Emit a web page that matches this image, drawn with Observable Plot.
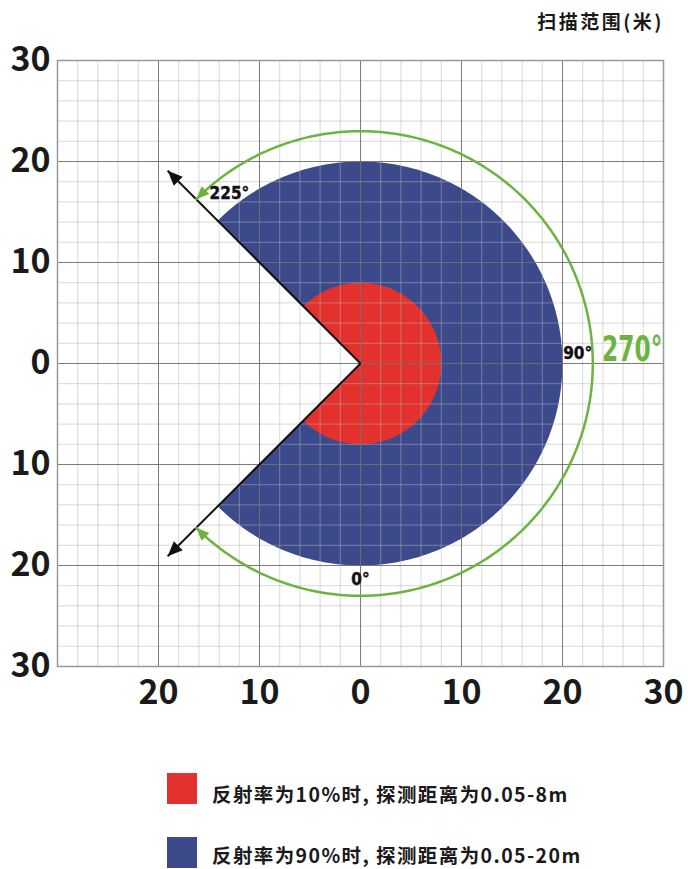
<!DOCTYPE html>
<html><head><meta charset="utf-8">
<script src="https://cdn.jsdelivr.net/npm/d3@7"></script>
<script src="https://cdn.jsdelivr.net/npm/@observablehq/plot@0.6"></script>
<style>
html,body{margin:0;background:#fff;width:688px;height:869px;overflow:hidden;font-family:"Noto Sans CJK SC","Noto Sans",sans-serif;color:#1a1a1a;}
body{position:relative;}
#title{position:relative;height:45px;}
#title span{position:absolute;right:24px;top:11px;font-size:19px;font-weight:700;line-height:20px;letter-spacing:2.5px;white-space:nowrap;}
#chart svg{display:block;}
.sw{position:absolute;left:167px;width:30px;height:31px;}
.lt{position:absolute;left:212px;font-size:19.5px;font-weight:700;line-height:18px;letter-spacing:1.4px;white-space:nowrap;}
</style></head><body>
<div id="title"><span>扫描范围(米)</span></div>
<div id="chart"></div>
<div id="legend"></div>
<script>
// ---- data ----
const rangeLabels = ["反射率为10%时, 探测距离为0.05-8m", "反射率为90%时, 探测距离为0.05-20m"];
const rangeRadii = [8, 20];
const rangeColors = ["#e3312d", "#3c4a8c"];
const scanStart = -45;   // degrees, 0° = down, counter-clockwise
const scanEnd = 225;
const scanSpan = 270;
const angleLabels = [0, 90, 225];
const arcRadius = 23;
const rayLength = 27;
const xTicks = [-20, -10, 0, 10, 20, 30];
const yTicks = [-30, -20, -10, 0, 10, 20, 30];
const majorGrid = [-20, -10, 0, 10, 20];
const minorGrid = d3.range(-28, 29, 2);

// ---- geometry helpers ----
const rad = a => a * Math.PI / 180;
const pt = (a, r) => ({x: r * Math.sin(rad(a)), y: -r * Math.cos(rad(a))});
const angles = d3.range(scanStart, scanEnd + 0.001, 1);
function sector(r) { return [{x: 0, y: 0}, ...angles.map(a => pt(a, r))]; }
const arcPts = angles.map(a => pt(a, arcRadius));

const head = {draw(ctx, size) {
  const L = Math.sqrt(size / Math.PI), w = L * 0.42;
  ctx.moveTo(0, 0); ctx.lineTo(-w, L); ctx.lineTo(w, L); ctx.closePath();
}};

const rays = [scanStart, scanEnd].map(a => ({...pt(a, rayLength), rot: 180 - a}));
const arcHeads = [
  {...pt(scanEnd, arcRadius), rot: 90 - scanEnd},
  {...pt(scanStart, arcRadius), rot: 270 - scanStart}
];
const degLabels = angleLabels.map(a => ({...pt(a, a === 225 ? 21.3 : 21.4), t: a + "°", a}));
const degOffsets = {0: [0, 0], 90: [1, -10], 225: [21, -18]};
const narrowFont = '"Liberation Sans Narrow", "DejaVu Sans Condensed", "Liberation Sans", sans-serif';

const plot = Plot.plot({
  width: 688, height: 675,
  marginLeft: 57, marginRight: 25, marginTop: 15, marginBottom: 54,
  x: {domain: [-30, 30]},
  y: {domain: [-30, 30]},
  style: {fontFamily: '"Noto Sans CJK SC", sans-serif', color: "#1a1a1a", overflow: "visible"},
  marks: [
    Plot.line(sector(rangeRadii[1]), {x: "x", y: "y", fill: rangeColors[1], stroke: "none", curve: "linear-closed"}),
    Plot.line(sector(rangeRadii[0]), {x: "x", y: "y", fill: rangeColors[0], stroke: "none", curve: "linear-closed"}),
    Plot.ruleX(minorGrid, {stroke: "#b4b4b4", strokeOpacity: 0.5}),
    Plot.ruleY(minorGrid, {stroke: "#b4b4b4", strokeOpacity: 0.5}),
    Plot.ruleX(majorGrid, {stroke: "#6a6a6a", strokeOpacity: 0.85}),
    Plot.ruleY(majorGrid, {stroke: "#6a6a6a", strokeOpacity: 0.85}),
    Plot.frame({stroke: "#999", strokeWidth: 1.5}),
    Plot.link(rays, {x1: () => 0, y1: () => 0, x2: "x", y2: "y", stroke: "#111", strokeWidth: 2}),
    Plot.dot(rays, {x: "x", y: "y", symbol: head, r: 15, rotate: "rot", fill: "#111", stroke: "none"}),
    Plot.line(arcPts, {x: "x", y: "y", stroke: "#6cb33f", strokeWidth: 2.5}),
    Plot.dot(arcHeads, {x: "x", y: "y", symbol: head, r: 13, rotate: "rot", fill: "#6cb33f", stroke: "none"}),
    ...degLabels.map(d => Plot.text([d], {x: "x", y: "y", text: "t", dx: degOffsets[d.a][0], dy: degOffsets[d.a][1],
      fontFamily: narrowFont, fontWeight: 700, fontSize: 17, fill: "#111", stroke: "#111", strokeWidth: 0.4})),
    Plot.text([{...pt(90, 26.9), t: scanSpan + "°"}], {x: "x", y: "y", text: "t", dy: -14,
      fontFamily: narrowFont, fontWeight: 700, fontSize: 35, fill: "#6cb33f"}),
    Plot.axisX(xTicks, {tickSize: 0, tickPadding: 13, tickFormat: d => Math.abs(d), fontSize: 34, fontWeight: 700, label: null}),
    Plot.axisY(yTicks, {tickSize: 0, tickPadding: 7, tickFormat: d => Math.abs(d), fontSize: 34, fontWeight: 700, label: null})
  ]
});
// condense the big green span label horizontally
d3.select(plot).selectAll("text").filter(function() { return this.textContent === scanSpan + "°"; })
  .each(function() {
    const t = this.getAttribute("transform") || "";
    this.setAttribute("transform", t + " scale(0.74,1)");
  });
document.getElementById("chart").appendChild(plot);

const leg = document.getElementById("legend");
rangeLabels.forEach((t, i) => {
  const sw = document.createElement("div");
  sw.className = "sw"; sw.style.top = (773 + i * 64) + "px"; sw.style.background = rangeColors[i];
  const tx = document.createElement("div");
  tx.className = "lt"; tx.style.top = (785 + i * 61) + "px"; tx.textContent = t;
  leg.appendChild(sw); leg.appendChild(tx);
});
</script>
</body></html>
